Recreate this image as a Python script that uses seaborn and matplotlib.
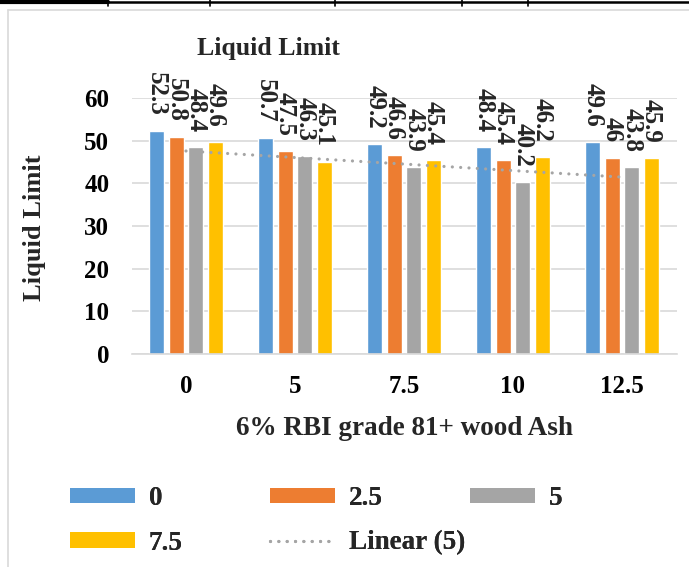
import numpy as np
import pandas as pd
import matplotlib
matplotlib.use("Agg")
import matplotlib.pyplot as plt
from matplotlib.lines import Line2D
from matplotlib.patches import Patch
import seaborn as sns

# Wood ash content (category axis) and RBI grade 81+ content (series)
ash_levels = ["0", "5", "7.5", "10", "12.5"]
rbi_levels = ["0", "2.5", "5", "7.5"]
ll_rbi_0 = [52.3, 50.7, 49.2, 48.4, 49.6]
ll_rbi_2_5 = [50.8, 47.5, 46.6, 45.4, 46.0]
ll_rbi_5 = [48.4, 46.3, 43.9, 40.2, 43.8]
ll_rbi_7_5 = [49.6, 45.1, 45.4, 46.2, 45.9]
colors = ["#5B9BD5", "#ED7D31", "#A5A5A5", "#FFC000"]

series = [ll_rbi_0, ll_rbi_2_5, ll_rbi_5, ll_rbi_7_5]
df = pd.DataFrame(
    [(a, r, v) for r, vals in zip(rbi_levels, series) for a, v in zip(ash_levels, vals)],
    columns=["ash", "rbi", "value"],
)

sns.set_theme(style="white")
plt.rcParams["font.family"] = ["Liberation Serif", "DejaVu Serif"]
plt.rcParams["font.weight"] = "bold"

W, H = 689, 567
fig = plt.figure(figsize=(W / 100, H / 100), dpi=100)
ax = fig.add_axes([131.5 / W, 1 - 354 / H, 545 / W, 256 / H])

sns.barplot(
    data=df, x="ash", y="value", hue="rbi",
    order=ash_levels, hue_order=rbi_levels, palette=colors,
    saturation=1, width=0.716, gap=0.207, legend=False, ax=ax, zorder=2,
)

for cont in ax.containers:
    ax.bar_label(cont, fmt="%g", rotation=270, padding=11,
                 fontsize=18, fontweight="bold", clip_on=False)

# Linear trend of the 5 % RBI series
xs = np.arange(len(ash_levels))
coef = np.polyfit(xs + 1, ll_rbi_5, 1)
trend = np.polyval(coef, xs + 1)
ax.plot(xs, trend, color="#A5A5A5", lw=2.3, linestyle=(0, (0.01, 2.6)),
        dash_capstyle="round", zorder=3)

ax.set_ylim(0, 60)
ax.set_xlim(-0.5, 4.5)
ax.set_yticks(range(0, 61, 10))
ax.yaxis.grid(True, color="#D9D9D9", lw=1.2)
ax.set_axisbelow(True)
for s in ["top", "right", "left"]:
    ax.spines[s].set_visible(False)
ax.spines["bottom"].set_color("#D9D9D9")
ax.spines["bottom"].set_linewidth(1.2)
ax.tick_params(axis="both", length=0, labelsize=18, colors="black")
ax.tick_params(axis="y", pad=16)
ax.tick_params(axis="x", pad=15)
for lab in ax.get_xticklabels() + ax.get_yticklabels():
    lab.set_fontweight("bold")

ax.set_xlabel("6% RBI grade 81+ wood Ash", fontsize=19.5, fontweight="bold", labelpad=13)
ax.set_ylabel("")
fig.text(35 / W, 1 - 228 / H, "Liquid Limit", rotation=90, ha="center", va="center",
         fontsize=19, fontweight="bold")
fig.text(268 / W, 1 - 48 / H, "Liquid Limit", ha="center", va="center",
         fontsize=18.5, fontweight="bold")

# Legend laid out in equal-width columns
handles = {r: Patch(facecolor=c, edgecolor="none") for r, c in zip(rbi_levels, colors)}
trend_handle = Line2D([], [], color="#A5A5A5", lw=2.3, linestyle=(0, (0.01, 2.6)),
                      dash_capstyle="round")
columns = [
    ([handles["0"], handles["7.5"]], ["0", "7.5"], 70),
    ([handles["2.5"], trend_handle], ["2.5", "Linear (5)"], 270),
    ([handles["5"]], ["5"], 470),
]
for hs, ls, x0 in columns:
    leg = fig.legend(
        hs, ls, loc="upper left", bbox_to_anchor=(x0 / W, 1 - 486 / H),
        frameon=False, borderpad=0, borderaxespad=0, handlelength=2.4,
        handleheight=0.5, handletextpad=0.5, labelspacing=0.72,
        prop={"family": "Liberation Serif", "weight": "bold", "size": 19.5},
    )
    fig.add_artist(leg)

# Chart frame and table rules above it
def fline(xp, yp, **kw):
    fig.add_artist(Line2D([x / W for x in xp], [1 - y / H for y in yp], **kw))

fline([8, 8], [10, H], color="#D9D9D9", lw=1.2)
fline([8, W], [10, 10], color="#D9D9D9", lw=1.2)
fline([0, W], [2, 2], color="black", lw=1.8)
fline([0, 108], [1.5, 1.5], color="black", lw=3)
for xv in [108, 210, 335, 462, 528]:
    fline([xv, xv], [0, 6], color="black", lw=1.2)

fig.savefig("out.png", dpi=100)
